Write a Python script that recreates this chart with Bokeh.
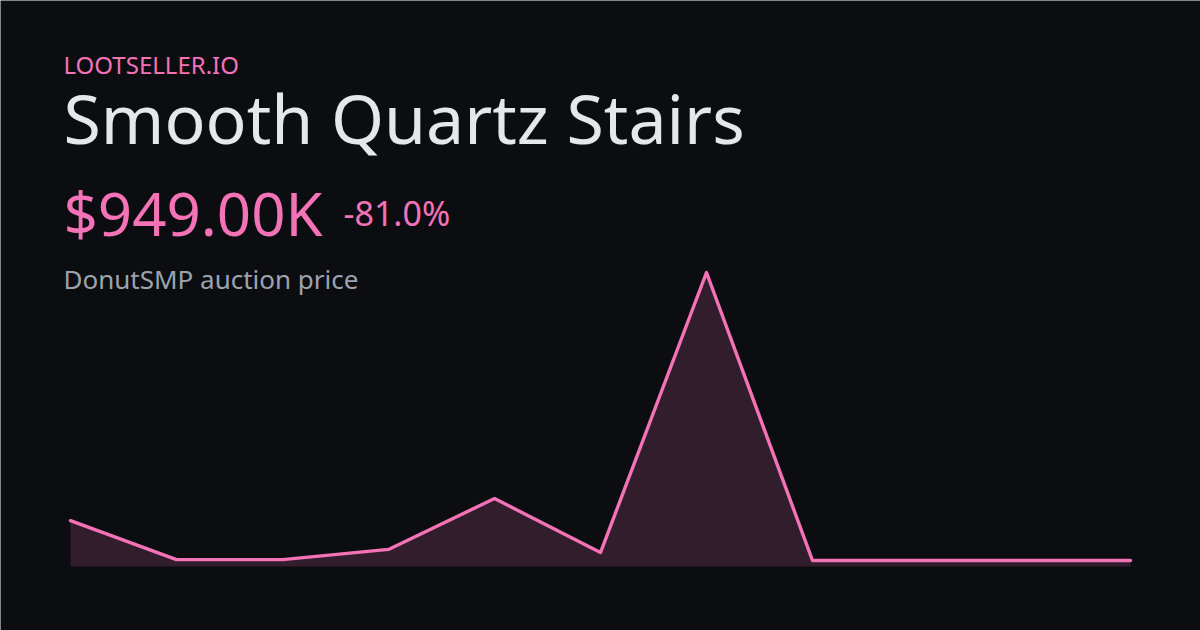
from bokeh.plotting import figure
from bokeh.models import Range1d, Label
from bokeh.embed import file_html
from bokeh.resources import INLINE

# ---- data ----
brand = "LOOTSELLER.IO"
item_name = "Smooth Quartz Stairs"
price_label = "$949.00K"
change_label = "-81.0%"
subtitle = "DonutSMP auction price"
idx = [0, 1, 2, 3, 4, 5, 6, 7, 8, 9, 10]
prices = [7250000, 1080000, 1080000, 2700000, 10750000, 2200000, 46500000,
          950000, 949000, 949000, 949000]

BG = "#0c0d10"
PINK = "#f472b6"

W, H = 1200, 630
p = figure(width=W, height=H, output_backend="svg", toolbar_location=None,
           min_border=0, background_fill_color=BG, border_fill_color=BG,
           outline_line_color=None)
p.axis.visible = False
p.grid.visible = False

# ranges: first point at px 70, last at 1130 ; zero at 64 px from bottom, max at 358
n = len(idx) - 1
span = n * W / 1060.0
xs = -70 * span / W
p.x_range = Range1d(xs, xs + span)
ymax = max(prices)
unit = ymax / 294.0
ys = -64 * unit
p.y_range = Range1d(ys, ys + H * unit)

p.varea(x=idx, y1=[0] * len(idx), y2=prices, fill_color=PINK, fill_alpha=0.17)
p.line(x=idx, y=prices, line_color=PINK, line_width=3.4, line_join="round", line_cap="round")

FONT = "Noto Sans"
def lab(txt, x, y, size, color):
    p.add_layout(Label(x=x, y=y, x_units="screen", y_units="screen", text=txt,
                       text_font=FONT, text_font_size=f"{size}px", text_color=color,
                       text_baseline="alphabetic", text_align="left"))

lab(brand, 63, 566, 24, PINK)
lab(item_name, 63, 513, 68, "#e5e7eb")
lab(price_label, 63, 418, 60, PINK)
lab(change_label, 343, 418, 34, PINK)
lab(subtitle, 63, 352, 26, "#9ca3af")

open("out.html", "w").write(file_html(p, INLINE))
